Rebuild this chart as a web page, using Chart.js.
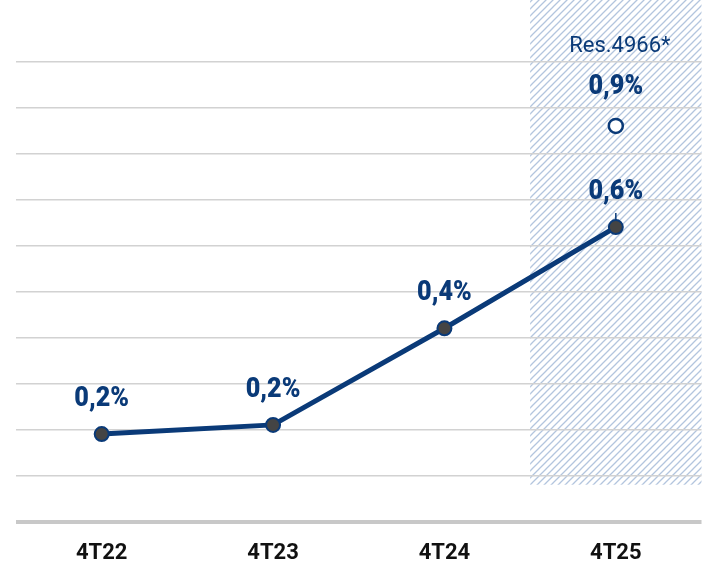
<!DOCTYPE html>
<html>
<head>
<meta charset="utf-8">
<script src="https://cdn.jsdelivr.net/npm/chart.js@4.4.1/dist/chart.umd.min.js"></script>
<style>
  html, body { margin: 0; padding: 0; background: #fff; }
  #wrap { width: 711px; height: 562px; }
</style>
</head>
<body>
<div id="wrap"><canvas id="myChart" width="711" height="562"></canvas></div>
<script>
const categories = ['4T22', '4T23', '4T24', '4T25'];
const rateValues = [0.19, 0.21, 0.42, 0.64];
const rateLabels = ['0,2%', '0,2%', '0,4%', '0,6%'];
const projectedValues = [null, null, null, 0.86];
const projectedLabel = '0,9%';
const projectedNote = 'Res.4966*';
const gridTicks = [0, 0.1, 0.2, 0.3, 0.4, 0.5, 0.6, 0.7, 0.8, 0.9, 1.0];

const NAVY = '#0a3a78';
const FONT = 'Roboto, "Noto Sans", sans-serif';

function makeHatch() {
    const c = document.createElement('canvas');
    c.width = 7;
    c.height = 7;
    const g = c.getContext('2d');
    g.fillStyle = '#ffffff';
    g.fillRect(0, 0, 7, 7);
    g.strokeStyle = '#b3c5de';
    g.lineWidth = 1.3;
    g.beginPath();
    g.moveTo(-1, 8); g.lineTo(8, -1);
    g.moveTo(-1, 1); g.lineTo(1, -1);
    g.moveTo(6, 8); g.lineTo(8, 6);
    g.stroke();
    return c;
}

const hatchPlugin = {
    id: 'hatch',
    beforeDraw(chart) {
        const { ctx, chartArea, scales } = chart;
        const x = scales.x;
        const half = (x.getPixelForValue(1) - x.getPixelForValue(0)) / 2;
        const left = x.getPixelForValue(3) - half;
        const bottom = scales.y.getPixelForValue(0.08);
        ctx.save();
        ctx.fillStyle = ctx.createPattern(makeHatch(), 'repeat');
        ctx.fillRect(left, 0, chartArea.right - left, bottom);
        ctx.restore();
    }
};

// condensed look: draw bold text squeezed horizontally
function drawNarrow(ctx, text, x, y) {
    ctx.save();
    ctx.translate(x, y);
    ctx.scale(0.9, 1);
    ctx.fillText(text, 0, 0);
    ctx.restore();
}

const labelPlugin = {
    id: 'valueLabels',
    afterDatasetsDraw(chart) {
        const { ctx } = chart;
        const main = chart.getDatasetMeta(0).data;
        const proj = chart.getDatasetMeta(1).data;
        ctx.save();
        ctx.fillStyle = NAVY;
        ctx.textAlign = 'center';
        ctx.textBaseline = 'middle';
        ctx.font = '900 28px ' + FONT;
        main.forEach((pt, i) => {
            drawNarrow(ctx, rateLabels[i], pt.x, pt.y - 35);
        });
        const p = proj[3];
        drawNarrow(ctx, projectedLabel, p.x, p.y - 39);
        ctx.font = '22px ' + FONT;
        ctx.fillText(projectedNote, p.x + 4, p.y - 79);
        ctx.restore();
    }
};

const stubPlugin = {
    id: 'stub',
    beforeDatasetsDraw(chart) {
        const { ctx } = chart;
        const pt = chart.getDatasetMeta(0).data[3];
        ctx.save();
        ctx.strokeStyle = NAVY;
        ctx.lineWidth = 1.5;
        ctx.beginPath();
        ctx.moveTo(pt.x, pt.y - 14);
        ctx.lineTo(pt.x, pt.y);
        ctx.stroke();
        ctx.restore();
    }
};

const ctx = document.getElementById('myChart').getContext('2d');
const myChart = new Chart(ctx, {
    type: 'line',
    data: {
        labels: categories,
        datasets: [{
            data: rateValues,
            borderColor: NAVY,
            borderWidth: 5,
            tension: 0,
            pointRadius: 7,
            pointBorderWidth: 2,
            pointBorderColor: NAVY,
            pointBackgroundColor: '#444444',
            pointHoverRadius: 7
        }, {
            data: projectedValues,
            showLine: false,
            pointRadius: 7,
            pointBorderWidth: 2.5,
            pointBorderColor: NAVY,
            pointBackgroundColor: '#ffffff',
            pointHoverRadius: 7
        }]
    },
    options: {
        responsive: false,
        animation: false,
        events: [],
        layout: { padding: { left: 16, right: 8, top: 0, bottom: 0 } },
        plugins: {
            legend: { display: false },
            tooltip: { enabled: false }
        },
        scales: {
            x: {
                offset: true,
                grid: { display: false, offset: true },
                border: { display: false },
                ticks: {
                    color: '#111111',
                    font: { family: FONT, size: 22, weight: 'bold' },
                    padding: 11
                },
                afterFit(scale) { scale.height = 40.5; }
            },
            y: {
                min: 0,
                max: 1.113,
                border: { display: false },
                afterBuildTicks(scale) {
                    scale.ticks = gridTicks.map(v => ({ value: v }));
                },
                afterFit(scale) { scale.width = 0; },
                ticks: { display: false },
                grid: {
                    drawTicks: false,
                    color: c => c.tick && c.tick.value === 0 ? '#c8c8c8' : '#d2d2d2',
                    lineWidth: c => c.tick && c.tick.value === 0 ? 4 : 1.5
                }
            }
        }
    },
    plugins: [hatchPlugin, stubPlugin, labelPlugin]
});
</script>
</body>
</html>
